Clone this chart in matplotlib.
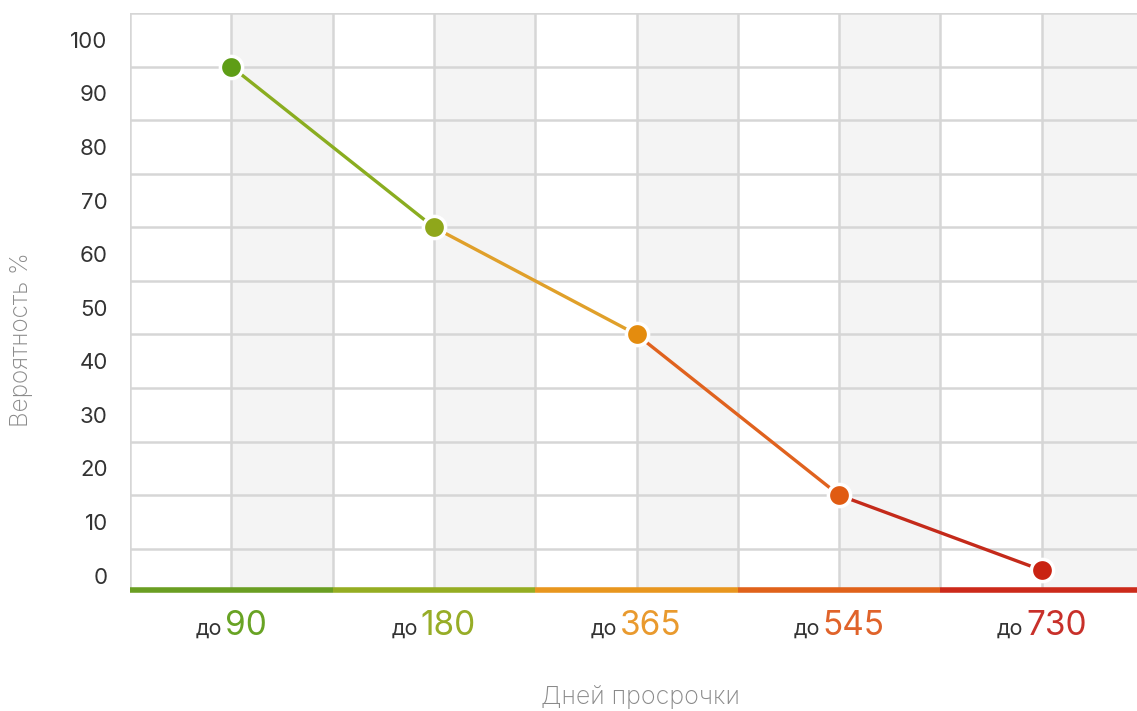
import matplotlib
matplotlib.use("Agg")
import matplotlib.pyplot as plt
from matplotlib.offsetbox import TextArea, HPacker, AnnotationBbox

plt.rcParams['font.family'] = ['Inter', 'DejaVu Sans']

# ---- data ----
categories = ["90", "180", "365", "545", "730"]
prefix = "до"
values = [95, 65, 45, 15, 1]
yticks = [0, 10, 20, 30, 40, 50, 60, 70, 80, 90, 100]
ylabel = "Вероятность %"
xlabel = "Дней просрочки"

point_colors = ["#5e9d16", "#8fa71b", "#e48c0e", "#e05b12", "#c92312"]
segment_colors = ["#8aad20", "#e0a02a", "#e0621e", "#c42a1a"]
label_colors = ["#68a324", "#97ad27", "#e99a2e", "#e0632a", "#c8302a"]
bar_colors = ["#6a9e22", "#95ad22", "#e8961e", "#e0621a", "#cc2a1a"]

grid_color = "#d6d6d6"
shade_color = "#f4f4f4"

fig = plt.figure(figsize=(11.37, 7.11), dpi=100)
ax = fig.add_axes([130/1137, 1 - 590/711, 1 - 130/1137, (590 - 13)/711])

n = len(categories)
x = list(range(n))
ylo, yhi = -2.7, 105
ax.set_xlim(-0.5, n - 0.53)
ax.set_ylim(ylo, yhi)

# shaded half-columns
for i in x:
    ax.axvspan(i, i + 0.5, color=shade_color, zorder=0, lw=0)

# grid lines
for v in [-0.5 + 0.5 * k for k in range(2 * n + 1)]:
    ax.axvline(v, color=grid_color, lw=1.8, zorder=1)
for v in [5 + 10 * k for k in range(10)] + [yhi]:
    ax.axhline(v, color=grid_color, lw=1.8, zorder=1)

for s in ax.spines.values():
    s.set_visible(False)

# bottom coloured bar
for i in x:
    ax.plot([i - 0.5, i + 0.5], [ylo, ylo], color=bar_colors[i], lw=4,
            solid_capstyle='butt', zorder=5, clip_on=False)

# line segments
for i in range(n - 1):
    ax.plot([x[i], x[i + 1]], [values[i], values[i + 1]],
            color=segment_colors[i], lw=2.4, zorder=3, solid_capstyle='butt')
# markers
for i in x:
    ax.plot(x[i], values[i], 'o', ms=16, color=point_colors[i],
            mec="white", mew=2.5, zorder=4)

# y ticks
ax.set_yticks(yticks)
ax.set_yticklabels([str(t) for t in yticks], fontsize=16, color="#333333")
ax.tick_params(axis='y', length=0, pad=16)
ax.set_xticks([])

# x labels: small prefix + large coloured number
for i in x:
    t1 = TextArea(prefix, textprops=dict(fontsize=15.5, color="#333333"))
    t2 = TextArea(categories[i], textprops=dict(fontsize=24, color=label_colors[i]))
    pack = HPacker(children=[t1, t2], align="baseline", pad=0, sep=2)
    ab = AnnotationBbox(pack, (i, 0), xycoords=('data', 'axes fraction'),
                        xybox=(0, -26), boxcoords="offset points",
                        box_alignment=(0.5, 0.5), frameon=False,
                        annotation_clip=False)
    ax.add_artist(ab)

fig.text(22/1137, 1 - 340/711, ylabel, rotation=90, ha='center', va='center',
         fontsize=17.5, color="#8a8a8a", fontweight='light')
fig.text(640/1137, 1 - 697/711, xlabel, ha='center', va='center',
         fontsize=18, color="#8a8a8a", fontweight='light')

fig.savefig("out.png", dpi=100)
